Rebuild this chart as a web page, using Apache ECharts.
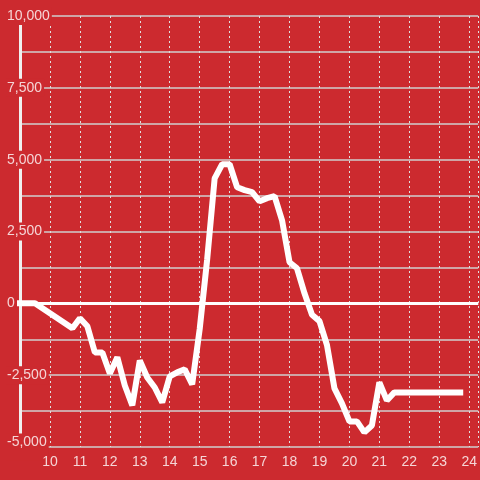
<!DOCTYPE html>
<html>
<head>
<meta charset="utf-8">
<script src="https://cdn.jsdelivr.net/npm/echarts@6/dist/echarts.min.js"></script>
<style>
html,body{margin:0;padding:0;background:#cc2a2f;}
#chart{width:480px;height:480px;}
</style>
</head>
<body>
<div id="chart"></div>
<script>
var hours = [8.75, 9, 9.5, 10.75, 11, 11.25, 11.5, 11.75, 12, 12.25, 12.5, 12.75, 13, 13.25, 13.5, 13.75, 14, 14.25, 14.5, 14.75, 15, 15.25, 15.5, 15.75, 16, 16.25, 16.5, 16.75, 17, 17.25, 17.5, 17.75, 18, 18.25, 18.5, 18.75, 19, 19.25, 19.5, 19.75, 20, 20.25, 20.5, 20.75, 21, 21.25, 21.5, 23.8];
var values = [0, 0, 0, -870, -520, -800, -1710, -1710, -2440, -1880, -2860, -3550, -1990, -2580, -2930, -3450, -2540, -2400, -2300, -2820, -900, 1530, 4350, 4840, 4840, 4040, 3940, 3870, 3550, 3660, 3730, 2890, 1430, 1220, 350, -400, -620, -1450, -2960, -3480, -4110, -4110, -4490, -4250, -2750, -3380, -3100, -3100];
var yTicks = [-5000, -2500, 0, 2500, 5000, 7500, 10000];

var bg = '#cc2a2f';
var labelColor = '#f5d5d6';
var points = hours.map(function (h, i) { return [h, values[i]]; });

var chart = echarts.init(document.getElementById('chart'), null, {renderer: 'canvas'});
chart.setOption({
  backgroundColor: bg,
  animation: false,
  textStyle: {fontFamily: 'Liberation Sans'},
  grid: {left: 20, right: 0, top: 16, bottom: 33},
  xAxis: {
    type: 'value',
    min: 9,
    max: 24.3,
    interval: 1,
    axisLine: {show: false},
    axisTick: {show: false},
    axisLabel: {
      color: labelColor, fontSize: 14, margin: 8,
      showMinLabel: false, showMaxLabel: false,
      fontFamily: 'Liberation Sans'
    },
    splitLine: {show: true, lineStyle: {color: '#e0e0e0', width: 1, type: [2, 3]}}
  },
  yAxis: {
    type: 'value',
    min: yTicks[0],
    max: yTicks[yTicks.length - 1],
    interval: 2500,
    axisLine: {show: true, lineStyle: {color: '#f0f0f0', width: 3}},
    axisTick: {show: false},
    axisLabel: {
      color: labelColor, fontSize: 14, align: 'left', margin: 14,
      backgroundColor: bg, padding: [2, 2, 2, 1],
      fontFamily: 'Liberation Sans',
      formatter: function (v) {
        var s = Math.abs(v).toString().replace(/\B(?=(\d{3})+(?!\d))/g, ',');
        s = (v < 0 ? '-' : '') + s;
        return v === yTicks[0] ? '{low|' + s + '}' : s;
      },
      rich: {
        low: {color: labelColor, fontSize: 14, fontFamily: 'Liberation Sans', padding: [0, 0, 9, 0]}
      }
    },
    splitLine: {show: true, lineStyle: {color: '#cfcfcf', width: 1.5}},
    minorTick: {show: false, splitNumber: 2},
    minorSplitLine: {show: true, lineStyle: {color: '#cfcfcf', width: 1.5}}
  },
  series: [{
    type: 'line',
    data: points,
    showSymbol: false,
    symbol: 'none',
    lineStyle: {color: '#ffffff', width: 6},
    markLine: {
      silent: true,
      symbol: ['none', 'none'],
      label: {show: false},
      lineStyle: {color: '#ffffff', width: 3, type: 'solid'},
      data: [{yAxis: 0}]
    }
  }]
});
</script>
</body>
</html>
